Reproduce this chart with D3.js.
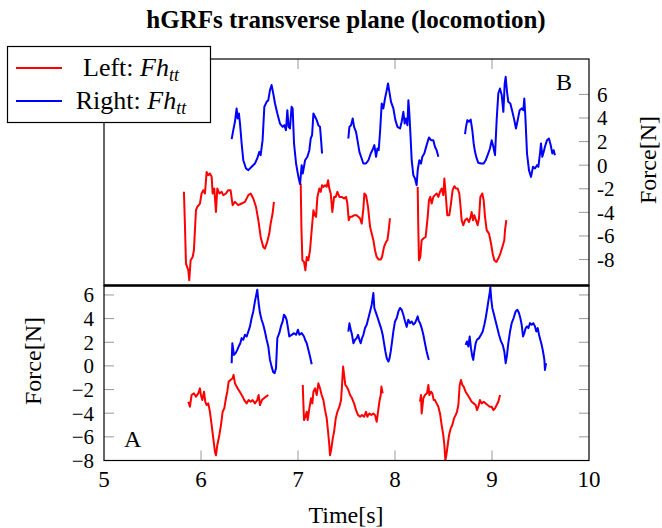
<!DOCTYPE html>
<meta charset="utf-8">
<head>
<style>
body { margin: 0; background: #fff; }
text { font-family: "Liberation Serif", "Times New Roman", serif; fill: #000; }
</style>
</head>
<script src="https://d3js.org/d3.v7.min.js"></script>
<div id="chart"></div>
<script>

// ---- data: [time (s), force (N)] ----
// panel B (top)
var topRed1 = [[5.824,-2.26],[5.835,-5.23],[5.845,-8.34],[5.869,-8.91],[5.879,-9.75],[5.893,-8.06],[5.914,-7.78],[5.927,-7.21],[5.948,-3.82],[5.962,-3.53],[5.989,-3.25],[6.006,-2.4],[6.024,-2.12],[6.041,-2.4],[6.058,-0.57],[6.075,-0.85],[6.092,-0.71],[6.110,-0.99],[6.120,-2.4],[6.137,-1.98],[6.154,-3.96],[6.168,-1.98],[6.189,-2.4],[6.213,-2.26],[6.230,-2.54],[6.257,-2.4],[6.281,-2.12],[6.305,-2.12],[6.326,-3.39],[6.350,-3.11],[6.384,-3.39],[6.419,-3.25],[6.453,-3.11],[6.488,-2.54],[6.512,-2.4],[6.539,-2.83],[6.567,-3.53],[6.591,-4.66],[6.615,-6.08],[6.642,-6.93],[6.659,-7.07],[6.683,-6.5],[6.704,-5.8],[6.718,-4.95],[6.738,-4.1],[6.752,-3.11]];
var topRed2 = [[7.028,-1.56],[7.035,-5.23],[7.045,-8.06],[7.062,-8.2],[7.076,-8.91],[7.090,-7.78],[7.107,-8.06],[7.124,-7.21],[7.141,-5.51],[7.159,-3.82],[7.172,-4.24],[7.186,-4.38],[7.200,-2.69],[7.220,-1.98],[7.234,-2.26],[7.248,-1.7],[7.262,-1.84],[7.279,-1.7],[7.296,-1.84],[7.310,-1.27],[7.323,-1.98],[7.337,-2.4],[7.354,-3.96],[7.372,-2.69],[7.389,-2.69],[7.406,-2.26],[7.427,-2.69],[7.451,-2.69],[7.475,-2.83],[7.495,-2.69],[7.509,-3.25],[7.523,-4.66],[7.537,-4.38],[7.554,-4.38],[7.578,-4.24],[7.605,-4.24],[7.622,-4.38],[7.640,-4.52],[7.657,-4.95],[7.674,-3.68],[7.684,-2.4],[7.701,-2.54],[7.722,-3.53],[7.743,-5.23],[7.760,-5.8],[7.777,-6.36],[7.794,-7.21],[7.811,-7.78],[7.832,-8.0],[7.853,-8.0],[7.866,-7.78],[7.887,-6.93],[7.908,-6.5],[7.922,-6.36],[7.935,-5.51],[7.948,-4.5]];
var topRed3 = [[8.234,-1.84],[8.240,-5.23],[8.247,-8.06],[8.261,-7.78],[8.275,-6.36],[8.292,-6.22],[8.316,-6.08],[8.337,-4.38],[8.350,-2.97],[8.364,-2.69],[8.378,-3.25],[8.395,-2.69],[8.412,-2.54],[8.429,-2.4],[8.447,-2.69],[8.464,-2.26],[8.481,-1.98],[8.498,-2.54],[8.509,-1.13],[8.522,-2.4],[8.539,-4.24],[8.560,-4.24],[8.577,-3.25],[8.594,-2.12],[8.612,-1.78],[8.629,-1.98],[8.646,-1.98],[8.663,-2.4],[8.673,-3.25],[8.687,-4.66],[8.704,-5.09],[8.722,-4.66],[8.742,-4.52],[8.763,-4.81],[8.780,-4.38],[8.790,-3.96],[8.804,-4.66],[8.818,-4.24],[8.835,-4.66],[8.852,-5.09],[8.866,-4.52],[8.880,-2.69],[8.900,-2.4],[8.914,-2.97],[8.928,-4.38],[8.945,-5.51],[8.969,-5.8],[8.990,-6.64],[9.007,-7.49],[9.024,-8.06],[9.045,-8.2],[9.065,-7.92],[9.086,-7.49],[9.107,-6.93],[9.127,-6.36],[9.134,-5.51],[9.148,-4.66]];
var topBlue1 = [[6.316,2.21],[6.333,2.97],[6.350,3.68],[6.367,4.81],[6.378,3.96],[6.391,4.38],[6.402,3.53],[6.419,1.84],[6.436,0.42],[6.464,-0.28],[6.488,-0.42],[6.522,-0.14],[6.556,0.14],[6.580,0.57],[6.601,1.13],[6.615,0.85],[6.635,2.12],[6.653,4.95],[6.677,5.37],[6.694,5.51],[6.711,6.36],[6.728,6.79],[6.745,6.08],[6.763,5.23],[6.787,4.38],[6.814,3.53],[6.842,3.25],[6.859,3.39],[6.876,2.97],[6.890,4.66],[6.903,3.25],[6.917,3.11],[6.934,4.95],[6.945,4.81],[6.959,1.84],[6.980,0.14],[7.004,-0.99],[7.021,-1.6],[7.038,0],[7.049,-0.71],[7.073,0.42],[7.097,0.71],[7.117,1.27],[7.131,2.26],[7.145,2.54],[7.159,4.38],[7.176,4.1],[7.193,3.82],[7.210,3.39],[7.227,3.25],[7.238,2.12],[7.248,0.99]];
var topBlue2 = [[7.519,2.26],[7.530,3.25],[7.547,3.39],[7.564,3.96],[7.578,3.25],[7.598,2.83],[7.616,1.98],[7.633,1.13],[7.650,0.71],[7.674,0.14],[7.701,0.14],[7.726,0.42],[7.750,0.99],[7.770,1.33],[7.787,1.7],[7.805,0.71],[7.818,1.41],[7.832,1.27],[7.846,2.83],[7.863,5.23],[7.880,4.81],[7.897,5.65],[7.915,6.36],[7.928,6.93],[7.942,6.22],[7.959,5.37],[7.983,4.81],[8.004,3.82],[8.025,3.25],[8.052,3.11],[8.069,3.68],[8.086,4.52],[8.100,3.53],[8.114,3.96],[8.128,3.39],[8.138,5.51],[8.148,4.38],[8.160,2.5],[8.172,0.42],[8.189,-0.85],[8.206,-1.13],[8.223,-1.7],[8.234,-0.42],[8.251,0.42],[8.268,0.14],[8.282,0.71],[8.302,0.99],[8.326,1.7],[8.350,2.35],[8.371,2.12],[8.395,2.12],[8.412,1.56],[8.429,1.27],[8.447,0.71]];
var topBlue3 = [[8.722,2.63],[8.732,3.25],[8.746,3.82],[8.763,3.68],[8.780,3.87],[8.797,2.97],[8.811,1.84],[8.825,1.13],[8.842,0.57],[8.859,0.2],[8.887,0.14],[8.914,0.14],[8.935,0.42],[8.955,0.85],[8.979,1.41],[8.997,2.12],[9.014,1.56],[9.031,0.85],[9.048,3.82],[9.065,6.08],[9.082,6.5],[9.100,5.94],[9.117,4.52],[9.131,6.93],[9.141,7.49],[9.155,6.22],[9.168,5.37],[9.189,5.23],[9.210,4.52],[9.230,3.82],[9.247,3.11],[9.265,3.82],[9.285,4.66],[9.306,4.81],[9.323,4.66],[9.333,5.65],[9.344,4.1],[9.361,0.99],[9.381,-0.42],[9.402,-0.99],[9.423,-0.14],[9.443,-0.28],[9.464,0],[9.478,-0.14],[9.495,0.99],[9.505,1.84],[9.519,0.71],[9.533,1.13],[9.546,1.56],[9.567,2.12],[9.587,2.26],[9.605,1.7],[9.622,0.99],[9.636,1.27],[9.649,0.85]];

// panel A (bottom)
var botRed1 = [[5.869,-3.03],[5.886,-3.45],[5.903,-2.46],[5.927,-2.32],[5.948,-2.6],[5.972,-2.32],[5.989,-1.9],[5.999,-2.46],[6.013,-2.89],[6.031,-2.18],[6.044,-3.03],[6.058,-3.31],[6.075,-3.17],[6.092,-3.88],[6.110,-5.0],[6.127,-6.14],[6.144,-7.27],[6.154,-7.56],[6.168,-6.71],[6.189,-5.86],[6.206,-5.0],[6.223,-3.88],[6.240,-3.59],[6.257,-2.74],[6.271,-2.18],[6.285,-1.33],[6.305,-1.19],[6.326,-1.05],[6.336,-0.76],[6.350,-1.47],[6.367,-1.75],[6.388,-2.04],[6.409,-2.32],[6.429,-2.6],[6.446,-2.89],[6.470,-3.17],[6.491,-2.89],[6.512,-3.03],[6.532,-2.89],[6.556,-3.17],[6.580,-2.89],[6.594,-2.46],[6.608,-3.31],[6.628,-2.89],[6.649,-2.74],[6.670,-2.6],[6.694,-2.46]];
var botRed2 = [[7.049,-1.61],[7.055,-3.03],[7.062,-4.58],[7.076,-4.3],[7.090,-3.88],[7.100,-4.58],[7.117,-3.59],[7.134,-2.74],[7.148,-3.17],[7.159,-2.18],[7.176,-1.9],[7.193,-2.46],[7.210,-1.47],[7.227,-1.9],[7.244,-2.46],[7.262,-2.89],[7.279,-3.74],[7.296,-4.44],[7.310,-5.57],[7.323,-6.71],[7.330,-7.56],[7.344,-6.99],[7.358,-6.14],[7.372,-5.57],[7.389,-4.44],[7.406,-3.88],[7.427,-3.45],[7.444,-2.89],[7.454,-1.61],[7.465,-0.06],[7.475,-0.76],[7.488,-1.61],[7.502,-1.75],[7.519,-2.04],[7.537,-2.46],[7.557,-2.74],[7.578,-3.17],[7.598,-3.74],[7.619,-4.16],[7.640,-4.3],[7.660,-4.16],[7.681,-4.3],[7.701,-3.88],[7.715,-4.3],[7.736,-4.02],[7.756,-4.16],[7.777,-4.02],[7.794,-4.16],[7.811,-4.73],[7.825,-3.88],[7.839,-3.03],[7.853,-2.46],[7.860,-1.75],[7.873,-2.32]];
var botRed3 = [[8.258,-3.03],[8.268,-2.46],[8.275,-4.02],[8.292,-2.74],[8.309,-2.46],[8.330,-2.32],[8.344,-1.61],[8.354,-2.46],[8.371,-2.18],[8.385,-2.32],[8.399,-2.89],[8.412,-2.89],[8.429,-3.17],[8.447,-3.45],[8.464,-4.02],[8.481,-5.0],[8.498,-5.86],[8.509,-6.71],[8.519,-7.98],[8.529,-7.56],[8.543,-6.71],[8.557,-5.86],[8.574,-5.29],[8.591,-5.0],[8.608,-4.44],[8.625,-4.16],[8.639,-3.88],[8.653,-3.31],[8.667,-1.61],[8.680,-1.19],[8.694,-1.61],[8.708,-1.75],[8.728,-2.18],[8.749,-2.46],[8.770,-2.74],[8.790,-3.03],[8.811,-3.17],[8.832,-3.31],[8.845,-3.74],[8.859,-3.45],[8.876,-2.89],[8.893,-3.17],[8.914,-3.03],[8.935,-3.17],[8.955,-3.31],[8.976,-3.45],[8.997,-3.45],[9.014,-3.74],[9.031,-3.59],[9.048,-3.31],[9.065,-3.03],[9.083,-2.46]];
var botBlue1 = [[6.316,0.23],[6.323,1.92],[6.340,0.93],[6.357,1.08],[6.374,1.36],[6.388,1.64],[6.405,1.92],[6.419,2.35],[6.436,2.21],[6.453,2.63],[6.471,2.49],[6.488,2.91],[6.505,3.34],[6.522,4.05],[6.539,4.61],[6.556,5.46],[6.570,6.03],[6.580,6.45],[6.594,5.32],[6.608,4.47],[6.625,3.9],[6.642,3.48],[6.659,2.91],[6.677,2.21],[6.694,1.64],[6.711,0.51],[6.728,-0.06],[6.745,-0.54],[6.759,-0.62],[6.773,-0.2],[6.787,2.35],[6.807,2.77],[6.824,3.34],[6.842,3.76],[6.855,4.33],[6.869,4.19],[6.883,3.9],[6.897,3.2],[6.910,2.49],[6.935,2.63],[6.959,2.77],[6.980,2.63],[7.000,3.06],[7.014,2.63],[7.038,2.77],[7.062,2.49],[7.073,2.21],[7.090,1.92],[7.107,1.36],[7.124,0.79],[7.141,0.14]];
var botBlue2 = [[7.519,2.9],[7.530,3.6],[7.543,3.1],[7.557,2.63],[7.571,1.92],[7.588,2.21],[7.605,2.35],[7.619,2.63],[7.633,2.21],[7.646,1.92],[7.660,2.35],[7.674,2.63],[7.691,3.2],[7.708,3.48],[7.726,4.05],[7.743,4.61],[7.760,5.18],[7.777,6.17],[7.787,4.9],[7.805,4.47],[7.822,4.05],[7.839,3.62],[7.856,3.2],[7.873,2.63],[7.887,1.92],[7.901,1.22],[7.915,0.65],[7.932,0.37],[7.942,0.59],[7.956,1.22],[7.970,2.07],[7.983,2.91],[8.000,3.76],[8.018,4.05],[8.035,4.61],[8.052,4.9],[8.069,4.75],[8.086,4.33],[8.104,3.76],[8.121,3.3],[8.137,3.9],[8.155,3.62],[8.172,3.76],[8.190,3.5],[8.206,3.62],[8.220,3.9],[8.234,4.19],[8.245,3.8],[8.258,3.62],[8.275,3.2],[8.292,2.63],[8.309,1.92],[8.326,1.22],[8.344,0.65],[8.350,0.51]];
var botBlue3 = [[8.728,1.78],[8.742,2.07],[8.756,1.64],[8.770,2.49],[8.783,1.5],[8.797,0.79],[8.807,0.51],[8.818,1.22],[8.832,1.92],[8.845,2.21],[8.866,2.35],[8.887,2.63],[8.904,2.91],[8.921,3.48],[8.935,4.05],[8.949,4.75],[8.962,5.46],[8.976,6.17],[8.983,6.65],[8.993,5.6],[9.003,4.9],[9.021,4.33],[9.038,3.76],[9.055,3.2],[9.072,2.63],[9.093,2.07],[9.110,1.78],[9.127,1.22],[9.141,0.23],[9.155,0.93],[9.168,1.92],[9.186,2.91],[9.203,3.62],[9.223,4.05],[9.244,4.61],[9.261,4.75],[9.278,4.47],[9.292,4.05],[9.306,3.48],[9.320,2.49],[9.333,2.77],[9.347,3.2],[9.361,3.34],[9.375,3.2],[9.392,3.62],[9.409,3.48],[9.426,3.62],[9.443,3.34],[9.457,2.91],[9.471,3.2],[9.485,2.63],[9.498,2.21],[9.512,1.78],[9.526,1.22],[9.540,0.51],[9.546,-0.34],[9.557,0.23]];

var xTicks = [5, 6, 7, 8, 9, 10];
var yTicks = [-8, -6, -4, -2, 0, 2, 4, 6];

// ---- layout ----
var W = 662, H = 528;
var left = 104, right = 589, topY = 59, midY = 285.5, botY = 460.5;
var tickCol = "#999", tickLen = 10;

var svg = d3.select("#chart").append("svg")
  .attr("width", W).attr("height", H);

var x = d3.scaleLinear().domain([5, 10]).range([left, right]);
var yTop = d3.scaleLinear().domain([-10.2, 9]).range([midY, topY]);
var yBot = d3.scaleLinear().domain([-8, 6.8]).range([botY, midY]);

// clip paths
var defs = svg.append("defs");
defs.append("clipPath").attr("id", "clipTop").append("rect")
  .attr("x", left).attr("y", topY).attr("width", right - left).attr("height", midY - topY);
defs.append("clipPath").attr("id", "clipBot").append("rect")
  .attr("x", left).attr("y", midY).attr("width", right - left).attr("height", botY - midY);

// title
svg.append("text")
  .attr("x", 346).attr("y", 28)
  .attr("text-anchor", "middle")
  .style("font-size", "25px").style("font-weight", "bold")
  .text("hGRFs transverse plane (locomotion)");

// ---- top panel (B) ----
var gTop = svg.append("g");
// x ticks on top edge, pointing down
gTop.selectAll(".xt").data(xTicks.filter(function(d) { return d > 5 && d < 10; }))
  .enter().append("line")
  .attr("x1", function(d) { return x(d); }).attr("x2", function(d) { return x(d); })
  .attr("y1", topY).attr("y2", topY + tickLen)
  .attr("stroke", tickCol).attr("stroke-width", 1);
// y ticks on the right, pointing left
gTop.selectAll(".yt").data(yTicks).enter().append("line")
  .attr("x1", right - tickLen).attr("x2", right)
  .attr("y1", function(d) { return yTop(d); }).attr("y2", function(d) { return yTop(d); })
  .attr("stroke", tickCol).attr("stroke-width", 1);
gTop.selectAll(".yl").data(yTicks).enter().append("text")
  .attr("x", 597).attr("y", function(d) { return yTop(d); })
  .attr("dy", "0.35em")
  .style("font-size", "21px")
  .text(function(d) { return d < 0 ? "-" + Math.abs(d) : d; });
svg.append("text")
  .attr("transform", "translate(656,160) rotate(-90)")
  .attr("text-anchor", "middle")
  .style("font-size", "24px")
  .text("Force[N]");

// ---- bottom panel (A) ----
var gBot = svg.append("g");
gBot.selectAll(".xb").data(xTicks.filter(function(d) { return d > 5 && d < 10; }))
  .enter().append("line")
  .attr("x1", function(d) { return x(d); }).attr("x2", function(d) { return x(d); })
  .attr("y1", botY - tickLen).attr("y2", botY)
  .attr("stroke", tickCol).attr("stroke-width", 1);
gBot.selectAll(".yb").data(yTicks.filter(function(d) { return d > -8; }))
  .enter().append("line")
  .attr("x1", left).attr("x2", left + tickLen)
  .attr("y1", function(d) { return yBot(d); }).attr("y2", function(d) { return yBot(d); })
  .attr("stroke", tickCol).attr("stroke-width", 1);
gBot.selectAll(".yr").data(yTicks.filter(function(d) { return d > -8; }))
  .enter().append("line")
  .attr("x1", right - tickLen).attr("x2", right)
  .attr("y1", function(d) { return yBot(d); }).attr("y2", function(d) { return yBot(d); })
  .attr("stroke", tickCol).attr("stroke-width", 1);
gBot.selectAll(".ybl").data(yTicks).enter().append("text")
  .attr("x", 94).attr("y", function(d) { return yBot(d); })
  .attr("dy", "0.35em")
  .attr("text-anchor", "end")
  .style("font-size", "21px")
  .text(function(d) { return d < 0 ? "\u2212" + Math.abs(d) : d; });
gBot.selectAll(".xbl").data(xTicks).enter().append("text")
  .attr("x", function(d) { return x(d); }).attr("y", 487)
  .attr("text-anchor", "middle")
  .style("font-size", "23px")
  .text(function(d) { return d; });
svg.append("text")
  .attr("x", 346).attr("y", 523)
  .attr("text-anchor", "middle")
  .style("font-size", "24px")
  .text("Time[s]");
svg.append("text")
  .attr("transform", "translate(41,361) rotate(-90)")
  .attr("text-anchor", "middle")
  .style("font-size", "24px")
  .text("Force[N]");

// ---- curves ----
var lineTop = d3.line().x(function(d) { return x(d[0]); }).y(function(d) { return yTop(d[1]); });
var lineBot = d3.line().x(function(d) { return x(d[0]); }).y(function(d) { return yBot(d[1]); });

var topSeries = [[topRed1, "#ff0000"], [topRed2, "#ff0000"], [topRed3, "#ff0000"],
                 [topBlue1, "#0000ff"], [topBlue2, "#0000ff"], [topBlue3, "#0000ff"]];
var botSeries = [[botRed1, "#ff0000"], [botRed2, "#ff0000"], [botRed3, "#ff0000"],
                 [botBlue1, "#0000ff"], [botBlue2, "#0000ff"], [botBlue3, "#0000ff"]];

svg.append("g").attr("clip-path", "url(#clipTop)")
  .selectAll("path").data(topSeries).enter().append("path")
  .attr("d", function(d) { return lineTop(d[0]); })
  .attr("fill", "none").attr("stroke", function(d) { return d[1]; })
  .attr("stroke-width", 2).attr("stroke-linejoin", "round");
svg.append("g").attr("clip-path", "url(#clipBot)")
  .selectAll("path").data(botSeries).enter().append("path")
  .attr("d", function(d) { return lineBot(d[0]); })
  .attr("fill", "none").attr("stroke", function(d) { return d[1]; })
  .attr("stroke-width", 2).attr("stroke-linejoin", "round");

// frames
svg.append("rect").attr("x", left).attr("y", topY)
  .attr("width", right - left).attr("height", midY - topY)
  .attr("fill", "none").attr("stroke", "#000").attr("stroke-width", 1.2);
svg.append("rect").attr("x", left).attr("y", midY)
  .attr("width", right - left).attr("height", botY - midY)
  .attr("fill", "none").attr("stroke", "#000").attr("stroke-width", 1.2);
svg.append("line").attr("x1", left).attr("x2", right)
  .attr("y1", midY).attr("y2", midY)
  .attr("stroke", "#000").attr("stroke-width", 2.5);

// panel letters
svg.append("text").attr("x", 556).attr("y", 90).style("font-size", "24px").text("B");
svg.append("text").attr("x", 124).attr("y", 446.5).style("font-size", "24px").text("A");

// ---- legend ----
var leg = svg.append("g");
leg.append("rect").attr("x", 7.5).attr("y", 46.5).attr("width", 203).attr("height", 76)
  .attr("fill", "#fff").attr("stroke", "#000").attr("stroke-width", 1.2);
var legItems = [["Left: ", "#ff0000", 68, 76], ["Right: ", "#0000ff", 101, 109]];
legItems.forEach(function(it) {
  leg.append("line").attr("x1", 16).attr("x2", 62).attr("y1", it[2]).attr("y2", it[2])
    .attr("stroke", it[1]).attr("stroke-width", 2);
  var t = leg.append("text").attr("x", 131).attr("y", it[3])
    .attr("text-anchor", "middle").style("font-size", "26px");
  t.append("tspan").text(it[0]);
  t.append("tspan").style("font-style", "italic").text("Fh");
  t.append("tspan").style("font-style", "italic").style("font-size", "18px")
    .attr("dy", 5).text("tt");
});

</script>
